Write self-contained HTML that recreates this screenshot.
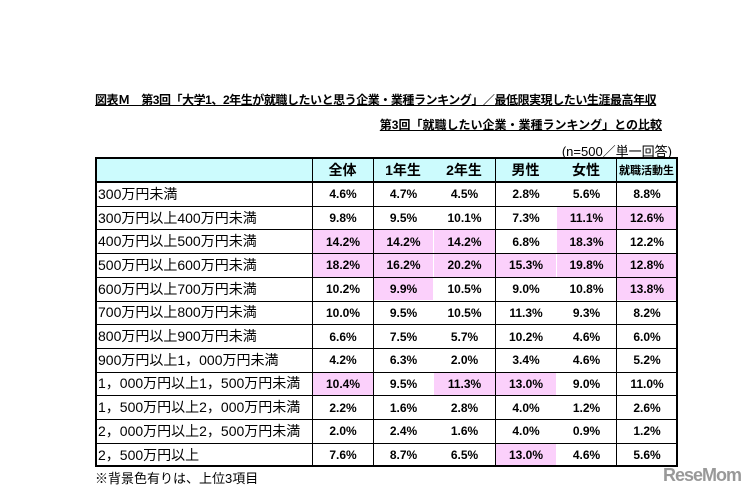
<!DOCTYPE html>
<html><head><meta charset="utf-8">
<style>
body{margin:0;width:749px;height:497px;background:#fff;position:relative;overflow:hidden;font-family:"Liberation Sans","Noto Sans CJK JP",sans-serif;color:#000}
.t{position:absolute;white-space:nowrap;font-size:12px;font-weight:bold}
.cell{position:absolute;box-sizing:border-box;display:flex;align-items:center;justify-content:center;font-size:12px;font-weight:bold}
.lab{justify-content:flex-start;padding-left:3px;font-size:14px;font-weight:normal}
.hl{position:absolute;background:#000}
</style></head><body>
<div class="t" style="left:95px;top:91px;text-decoration:underline;letter-spacing:-0.45px">図表Ｍ　第3回「大学1、2年生が就職したいと思う企業・業種ランキング」／最低限実現したい生涯最高年収</div>
<div class="t" style="right:87px;top:116px;text-decoration:underline">第3回「就職したい企業・業種ランキング」との比較</div>
<div class="t" style="right:77px;top:141px;font-weight:normal;font-size:13px">(n=500／単一回答)</div>
<div class="t" style="left:95px;top:468px;font-weight:normal;font-size:13px">※背景色有りは、上位3項目</div>
<div class="t" style="left:663px;top:465px;font-size:18px;color:#999;letter-spacing:-1px">ReseMom</div>
<div id="tbl"></div>
<script>
const columns=["全体","1年生","2年生","男性","女性","就職活動生"];
const categories=["300万円未満","300万円以上400万円未満","400万円以上500万円未満","500万円以上600万円未満","600万円以上700万円未満","700万円以上800万円未満","800万円以上900万円未満","900万円以上1，000万円未満","1，000万円以上1，500万円未満","1，500万円以上2，000万円未満","2，000万円以上2，500万円未満","2，500万円以上"];
const values=[
[4.6,4.7,4.5,2.8,5.6,8.8],
[9.8,9.5,10.1,7.3,11.1,12.6],
[14.2,14.2,14.2,6.8,18.3,12.2],
[18.2,16.2,20.2,15.3,19.8,12.8],
[10.2,9.9,10.5,9.0,10.8,13.8],
[10.0,9.5,10.5,11.3,9.3,8.2],
[6.6,7.5,5.7,10.2,4.6,6.0],
[4.2,6.3,2.0,3.4,4.6,5.2],
[10.4,9.5,11.3,13.0,9.0,11.0],
[2.2,1.6,2.8,4.0,1.2,2.6],
[2.0,2.4,1.6,4.0,0.9,1.2],
[7.6,8.7,6.5,13.0,4.6,5.6]];
const highlights=[
[0,0,0,0,0,0],[0,0,0,0,1,1],[1,1,1,0,1,0],[1,1,1,1,1,1],[0,1,0,0,0,1],[0,0,0,0,0,0],
[0,0,0,0,0,0],[0,0,0,0,0,0],[1,0,1,1,0,0],[0,0,0,0,0,0],[0,0,0,0,0,0],[0,0,0,1,0,0]];
const xs=[95,312,373,433,495,556,616,677];
const top0=157,hdrB=182,rowH=23.7;
function add(el){document.body.appendChild(el);return el;}
let h=document.createElement('div');
h.className='cell';h.style.cssText=`left:${xs[0]}px;top:${top0}px;width:${xs[7]-xs[0]}px;height:${hdrB-top0}px;background:#ccfbfd`;


add(h);
columns.forEach((c,i)=>{
 const d=document.createElement('div');d.className='cell';
 d.style.cssText=`left:${xs[i+1]}px;top:${top0}px;width:${xs[i+2]-xs[i+1]}px;height:${hdrB-top0}px;font-size:${i==5?11:14}px`;
 d.textContent=c;
 
 
 add(d);
});
categories.forEach((cat,r)=>{
 const y=hdrB+r*rowH;
 const l=document.createElement('div');l.className='cell lab';
 l.style.cssText+=`left:${xs[0]}px;top:${y}px;width:${xs[1]-xs[0]}px;height:${rowH}px`;
 l.textContent=cat;
 
 
 add(l);
 values[r].forEach((v,i)=>{
  const d=document.createElement('div');d.className='cell';
  d.style.cssText=`left:${xs[i+1]+1}px;top:${y+1}px;width:${xs[i+2]-xs[i+1]-1}px;height:${rowH-1}px;${highlights[r][i]?'background:#fbd0fb':''}`;
  d.textContent=v.toFixed(1)+'%';
  
  
  add(d);
 });
});
const bottom=hdrB+categories.length*rowH;
function line(x,y,w,hh){const e=document.createElement('div');e.className='hl';e.style.cssText=`left:${x}px;top:${y}px;width:${w}px;height:${hh}px`;
 
 
 add(e);}
line(xs[0],top0,xs[7]-xs[0],2);
line(xs[0],hdrB-1,xs[7]-xs[0],2);
for(let r=1;r<categories.length;r++)line(xs[0],hdrB+r*rowH,xs[7]-xs[0],1);
line(xs[0],bottom-1,xs[7]-xs[0]+1,2);
line(xs[0],top0,2,bottom-top0);
line(xs[7]-1,top0,2,bottom-top0);
[1,2,4,6].forEach(i=>line(xs[i],top0,1,bottom-top0));
</script>
</body></html>
